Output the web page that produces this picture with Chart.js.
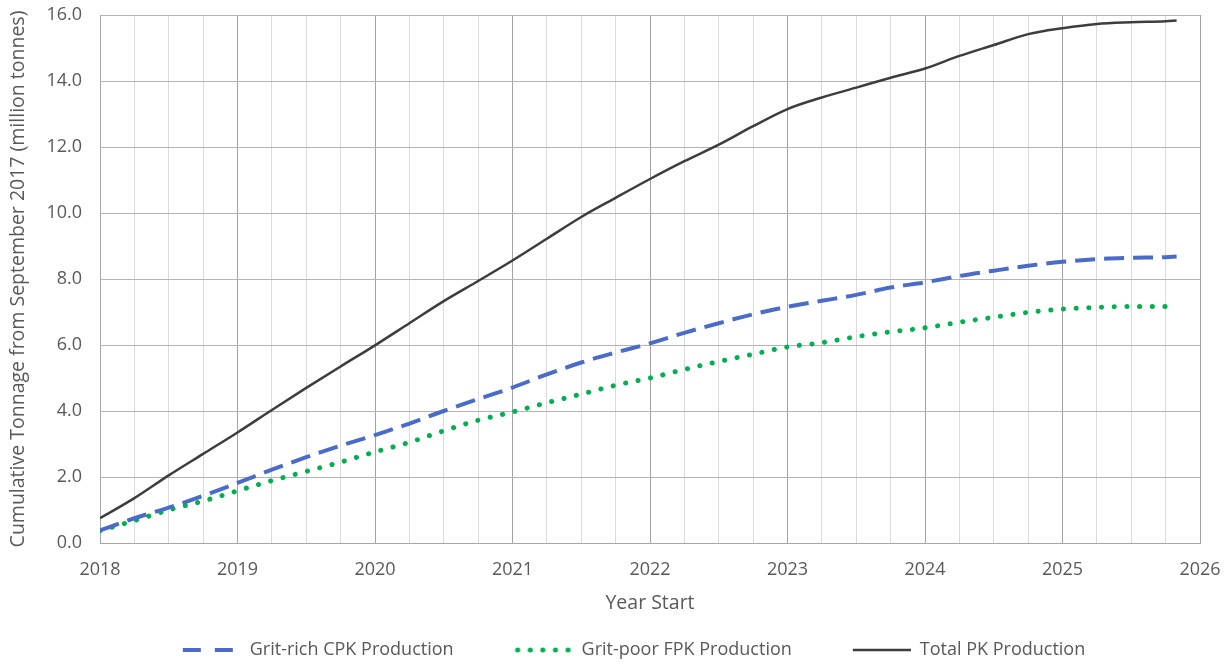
<!DOCTYPE html>
<html>
<head>
<meta charset="utf-8">
<script src="https://cdn.jsdelivr.net/npm/chart.js@4.4.1/dist/chart.umd.min.js"></script>
<style>
  html, body { margin: 0; padding: 0; background: #fff; }
  #wrap { width: 1227px; height: 665px; }
</style>
</head>
<body>
<div id="wrap"><canvas id="myChart" width="1227" height="665"></canvas></div>
<script>
// Decimal year (quarterly readings, last point is end of production ~Nov 2025)
const years = [
  2018, 2018.25, 2018.5, 2018.75, 2019, 2019.25, 2019.5, 2019.75,
  2020, 2020.25, 2020.5, 2020.75, 2021, 2021.25, 2021.5, 2021.75,
  2022, 2022.25, 2022.5, 2022.75, 2023, 2023.25, 2023.5, 2023.75,
  2024, 2024.25, 2024.5, 2024.75, 2025, 2025.25, 2025.5, 2025.75, 2025.83
];

// Cumulative tonnage (million tonnes)
const gritRichCPK = [
  0.38, 0.75, 1.07, 1.43, 1.82, 2.22, 2.60, 2.95,
  3.27, 3.62, 4.00, 4.36, 4.71, 5.11, 5.47, 5.77,
  6.05, 6.37, 6.66, 6.93, 7.16, 7.34, 7.52, 7.74,
  7.90, 8.09, 8.25, 8.40, 8.52, 8.60, 8.64, 8.66, 8.68
];
const gritPoorFPK = [
  0.37, 0.68, 1.00, 1.27, 1.58, 1.89, 2.17, 2.45,
  2.76, 3.05, 3.40, 3.72, 3.97, 4.25, 4.51, 4.78,
  5.00, 5.26, 5.50, 5.72, 5.94, 6.07, 6.25, 6.40,
  6.52, 6.69, 6.84, 6.99, 7.09, 7.14, 7.17, 7.17, 7.18
];
const totalPK = [
  0.75, 1.36, 2.05, 2.70, 3.35, 4.03, 4.70, 5.35,
  5.99, 6.66, 7.33, 7.94, 8.56, 9.22, 9.88, 10.46,
  11.03, 11.57, 12.07, 12.63, 13.15, 13.50, 13.80, 14.10,
  14.38, 14.76, 15.09, 15.42, 15.60, 15.73, 15.78, 15.81, 15.83
];

const seriesNames = ['Grit-rich CPK Production', 'Grit-poor FPK Production', 'Total PK Production'];
const xTitle = 'Year Start';
const yTitle = 'Cumulative Tonnage from September 2017 (million tonnes)';

const FONT = '"Open Sans", Lato, sans-serif';
const TEXT = '#595959';
const SAMPLE_W = 58;   // visible legend sample
const LEG_BOX = 117;   // sample + blank lead-in that spaces the items

// small pictures for the legend samples (blank on the left = gap to previous item)
function legendSample(color, dash, width, cap, from, to) {
  const c = document.createElement('canvas');
  c.width = LEG_BOX; c.height = 10;
  const g = c.getContext('2d');
  const off = LEG_BOX - SAMPLE_W;
  g.strokeStyle = color;
  g.lineWidth = width;
  g.lineCap = cap;
  g.setLineDash(dash);
  g.beginPath();
  g.moveTo(off + from, 5);
  g.lineTo(off + to, 5);
  g.stroke();
  return c;
}

function pts(vals) {
  return years.map((x, i) => ({ x: x, y: vals[i] }));
}

const datasets = [
  {
    label: seriesNames[0],
    data: pts(gritRichCPK),
    borderColor: '#4a6cc8',
    borderWidth: 4,
    borderDash: [20, 9],
    pointStyle: legendSample('#4a6cc8', [18, 14], 4, 'butt', 0, 50)
  },
  {
    label: seriesNames[1],
    data: pts(gritPoorFPK),
    borderColor: '#00b050',
    borderWidth: 5,
    borderDash: [0.1, 12.6],
    borderCapStyle: 'round',
    pointStyle: legendSample('#00b050', [0.1, 12.5], 5, 'round', 3, 57)
  },
  {
    label: seriesNames[2],
    data: pts(totalPK),
    borderColor: '#3d3d3d',
    borderWidth: 2.5,
    pointStyle: legendSample('#3d3d3d', [], 2.5, 'butt', 0, 58)
  }
];
datasets.forEach(d => {
  d.pointRadius = 0;
  d.pointHoverRadius = 0;
  d.fill = false;
  d.cubicInterpolationMode = 'monotone';
});

const ctx = document.getElementById('myChart').getContext('2d');
const myChart = new Chart(ctx, {
  type: 'line',
  data: { datasets: datasets },
  options: {
    responsive: false,
    animation: false,
    devicePixelRatio: 1,
    layout: { padding: { left: 0, right: 18, top: 15, bottom: -4 } },
    plugins: {
      tooltip: { enabled: false },
      legend: {
        position: 'bottom',
        labels: {
          usePointStyle: true,
          pointStyleWidth: LEG_BOX,
          boxHeight: 10,
          padding: 2,
          color: TEXT,
          font: { family: FONT, size: 18 }
        }
      }
    },
    scales: {
      x: {
        type: 'linear',
        min: 2018,
        max: 2026,
        border: { color: '#a6a6a6' },
        grid: {
          drawTicks: false,
          color: c => Number.isInteger(c.tick.value) ? '#a3a3a3' : '#dadada',
          lineWidth: 1
        },
        ticks: {
          stepSize: 0.25,
          autoSkip: false,
          maxRotation: 0,
          padding: 16,
          color: TEXT,
          font: { family: FONT, size: 18 },
          callback: v => Number.isInteger(v) ? String(v) : ''
        },
        title: {
          display: true,
          text: xTitle,
          color: TEXT,
          font: { family: FONT, size: 19.5 },
          padding: { top: 0, bottom: 24 }
        },
        afterFit: s => { s.height = 96; s.paddingRight = 27; }
      },
      y: {
        min: 0,
        max: 16,
        border: { color: '#a6a6a6' },
        grid: { drawTicks: false, color: '#b4b4b4' },
        ticks: {
          stepSize: 2,
          padding: 18,
          color: TEXT,
          font: { family: FONT, size: 18 },
          callback: v => v.toFixed(1)
        },
        title: {
          display: true,
          text: yTitle,
          color: TEXT,
          font: { family: FONT, size: 19.5 },
          padding: { top: 7, bottom: 0 }
        },
        afterFit: s => { s.width = 100; s.paddingTop = 0; s.paddingBottom = 0; }
      }
    }
  }
});
</script>
</body>
</html>
